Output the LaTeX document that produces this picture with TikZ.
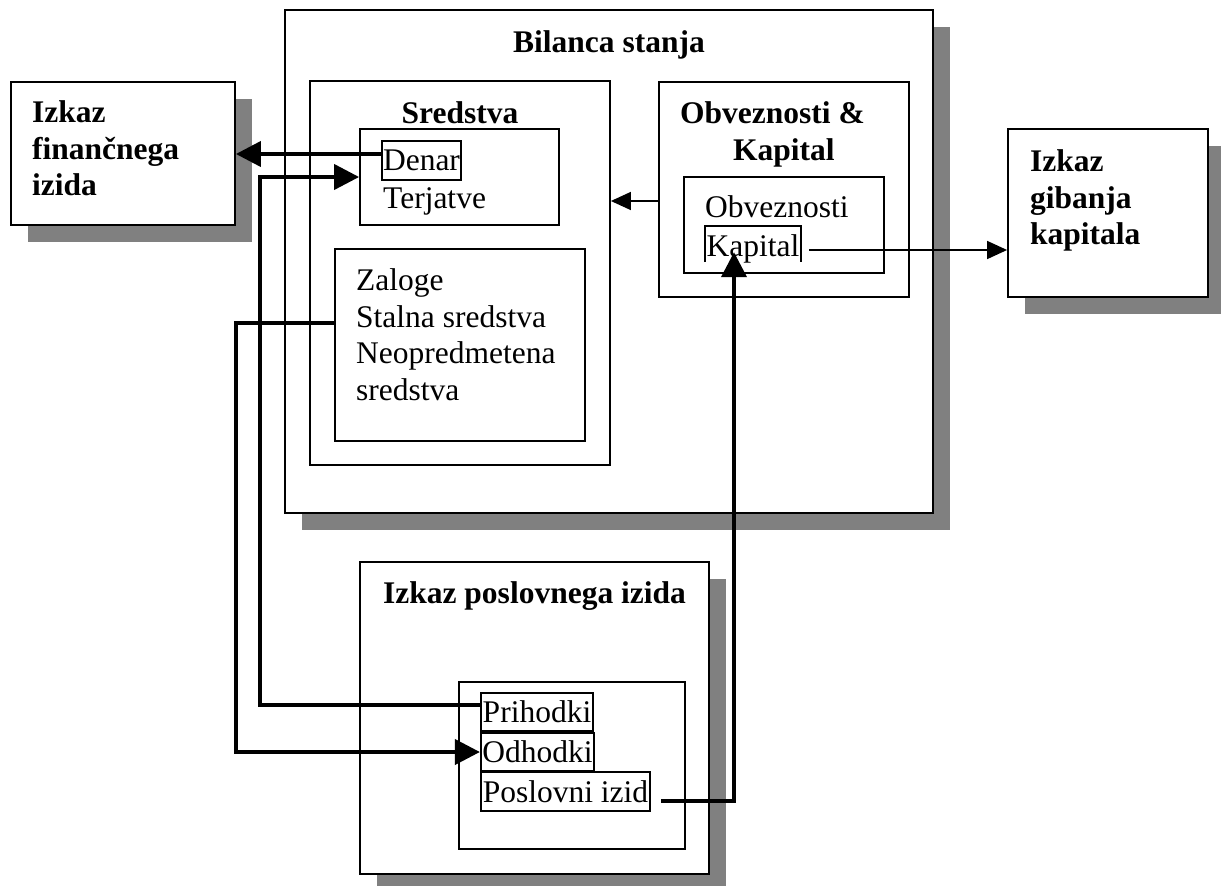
\documentclass[tikz,border=0pt]{standalone}
\usepackage{fontspec}
\setmainfont{Liberation Serif}
\usetikzlibrary{arrows.meta,shadows}
\definecolor{shade}{HTML}{808080}
\newcommand{\tstrut}{\rule{0pt}{24pt}}
\begin{document}
\begin{tikzpicture}[x=1pt,y=-1pt,
  box/.style={draw=black, line width=1.8pt, fill=white, rectangle, inner sep=0pt},
  shd/.style={drop shadow={shadow xshift=17pt, shadow yshift=-17pt, fill=shade, opacity=1}},
  tbox/.style={draw=black, line width=2.2pt, rectangle, inner sep=0pt},
  txt/.style={inner sep=0pt, font=\fontsize{31.5pt}{36.8pt}\selectfont},
  btxt/.style={inner sep=0pt, font=\fontsize{31.5pt}{36.8pt}\selectfont\bfseries},
  blk/.style={anchor=north west, align=left},
  thickarrow/.style={line width=4pt, -{Triangle[length=25pt,width=25pt]}},
  thinarrow/.style={line width=1.5pt, -{Triangle[length=20pt,width=18pt]}}
]
\useasboundingbox (0,0) rectangle (1221,886);

% main boxes with shadows
\node[box, shd, minimum width=648pt, minimum height=503pt] (bil) at (609,261.5) {};
\node[box, shd, minimum width=224pt, minimum height=143pt] (fin) at (123,153.5) {};
\node[box, shd, minimum width=200pt, minimum height=168pt] (gib) at (1108,213) {};
\node[box, shd, minimum width=349pt, minimum height=312pt] (pos) at (534.5,718) {};

% inner boxes
\node[box, minimum width=300pt, minimum height=384pt] (sred) at (460,273) {};
\node[box, minimum width=199pt, minimum height=96pt] (dt) at (459.5,177) {};
\node[box, minimum width=250pt, minimum height=192pt] (zal) at (460,345) {};
\node[box, minimum width=250pt, minimum height=215pt] (obv) at (784,189.5) {};
\node[box, minimum width=200pt, minimum height=96pt] (obvin) at (784,225) {};
\node[box, minimum width=226pt, minimum height=167pt] (posin) at (572,765.5) {};

% titles
\node[btxt, anchor=base] (tbil) at (609,52) {Bilanca stanja};
\node[btxt, anchor=base] (tsred) at (460,123) {Sredstva};
\node[btxt, blk] (tfin) at (32,98) {\tstrut Izkaz\\finančnega\\izida};
\node[btxt, blk] (tgib) at (1030,147) {\tstrut Izkaz\\gibanja\\kapitala};
\node[btxt, blk] (tobv) at (680,99) {\tstrut Obveznosti \&\\\hspace*{53pt}Kapital};
\node[btxt, anchor=base] (tpos) at (534.5,603) {Izkaz poslovnega izida};

% item texts
\node[tbox, txt, minimum width=79pt, minimum height=39pt] (denar) at (421.5,160.5) {Denar};
\node[txt, anchor=base west] (terj) at (383,208) {Terjatve};
\node[txt, blk] (tzal) at (356,266) {\tstrut Zaloge\\Stalna sredstva\\Neopredmetena\\sredstva};
\node[txt, anchor=base west] (tobvz) at (705,217) {Obveznosti};
\node[txt, minimum width=96pt, text height=30pt, text depth=6pt] (kap) at (753,244) {Kapital};
\draw[line width=2pt] (kap.south west) -- (kap.north west) -- (kap.north east) -- (kap.south east);

\node[tbox, txt, minimum width=112pt, minimum height=38pt] (prih) at (537,712) {Prihodki};
\node[tbox, txt, minimum width=113pt, minimum height=38pt] (odh) at (537.5,752) {Odhodki};
\node[tbox, txt, minimum width=169pt, minimum height=39pt] (posl) at (565.5,791.5) {Poslovni izid};

% bend coordinates
\coordinate (lx1) at (260,0);
\coordinate (lx2) at (236,0);
\coordinate (kapt) at ([xshift=-19pt,yshift=10pt]kap.south);

% connectors
\draw[thickarrow] ([yshift=6.5pt]denar.west) coordinate (d1) -- (d1 -| fin.east);
\draw[thickarrow] ([yshift=7pt]prih.west) -| (lx1 |- dt.west) -- (dt.west);
\draw[thickarrow] ([yshift=22.5pt]zal.west) -| (lx2 |- odh.west) -- (odh.west);
\draw[thickarrow] ([xshift=10pt,yshift=-9.5pt]posl.east) -| (kapt);
\draw[thinarrow] ([xshift=8pt,yshift=-6pt]kap.east) coordinate (k1) -- (k1 -| gib.west);
\draw[thinarrow] ([yshift=-11.5pt]obv.west) coordinate (o1) -- (o1 -| sred.east);
\end{tikzpicture}
\end{document}
